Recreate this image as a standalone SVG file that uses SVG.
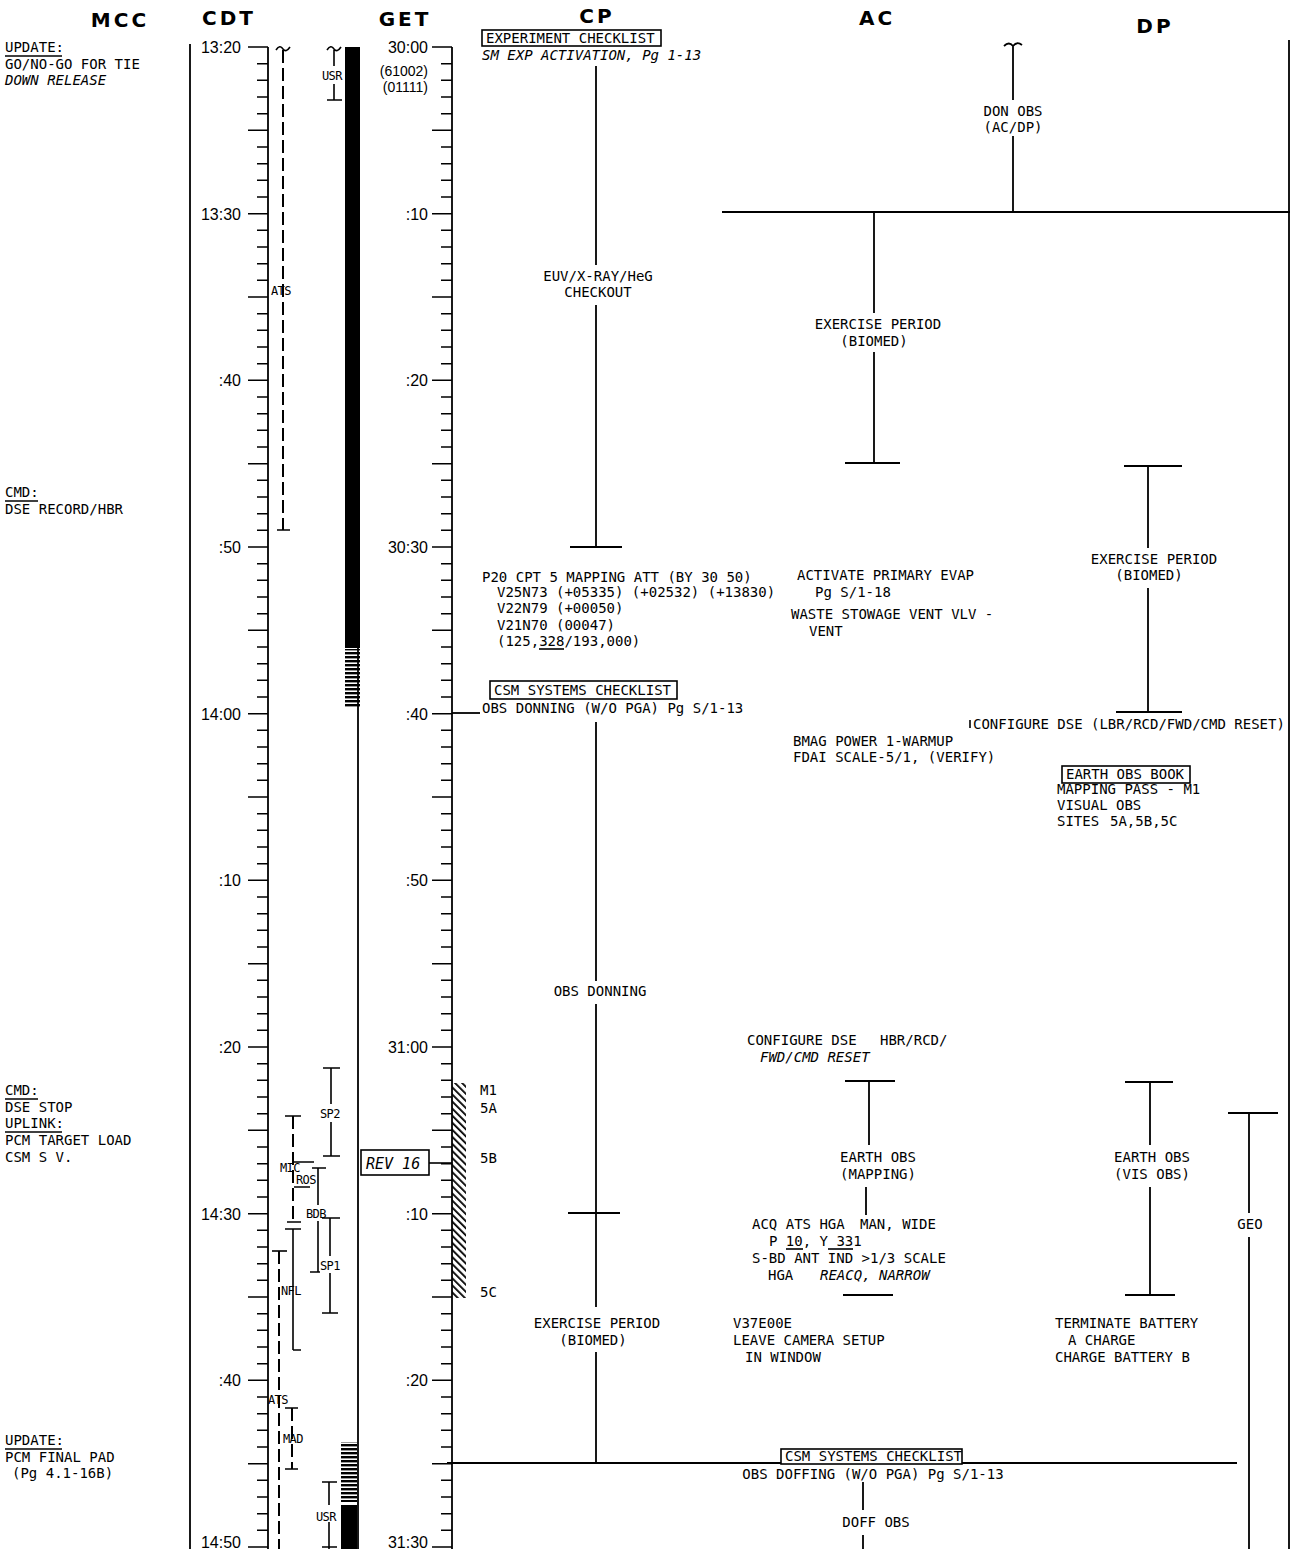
<svg xmlns="http://www.w3.org/2000/svg" width="1294" height="1549" viewBox="0 0 1294 1549">
<style>
.t{font-family:"DejaVu Sans Mono","Liberation Mono",monospace;font-size:14px;fill:#000}
.s{font-family:"DejaVu Sans Mono","Liberation Mono",monospace;font-size:12px;letter-spacing:-0.6px;fill:#000}
.i{font-style:italic}
.m{text-anchor:middle}
.r{font-family:"Liberation Sans",Arial,sans-serif;font-size:16px;fill:#000;text-anchor:end}
.h{font-family:"DejaVu Sans","Liberation Sans",sans-serif;font-size:20px;font-weight:bold;letter-spacing:3px;fill:#000;text-anchor:middle}
.ln{stroke:#000;stroke-width:1.8;fill:none}
.tk{stroke:#000;stroke-width:1.6;fill:none}
.ds{stroke:#000;stroke-width:2;fill:none;stroke-dasharray:13 5}
.bx{stroke:#000;stroke-width:1.6;fill:#fff}
</style>
<defs>
<pattern id="hstripe" width="16" height="4" patternUnits="userSpaceOnUse"><rect width="16" height="2.4" fill="#000"/></pattern>
<pattern id="diag" width="5" height="5" patternUnits="userSpaceOnUse" patternTransform="rotate(-45)"><rect width="1.8" height="5" fill="#000"/></pattern>
<path id="minor" d="M0 63.7h11M0 80.3h11M0 97h11M0 113.7h11M0 147h11M0 163.7h11M0 180.3h11M0 197h11M0 230.3h11M0 247h11M0 263.7h11M0 280.3h11M0 313.7h11M0 330.3h11M0 347h11M0 363.7h11M0 397h11M0 413.7h11M0 430.3h11M0 447h11M0 480.3h11M0 497h11M0 513.7h11M0 530.3h11M0 563.7h11M0 580.3h11M0 597h11M0 613.7h11M0 647h11M0 663.7h11M0 680.3h11M0 697h11M0 730.3h11M0 747h11M0 763.7h11M0 780.3h11M0 813.7h11M0 830.3h11M0 847h11M0 863.7h11M0 897h11M0 913.7h11M0 930.3h11M0 947h11M0 980.3h11M0 997h11M0 1013.7h11M0 1030.3h11M0 1063.7h11M0 1080.3h11M0 1097h11M0 1113.7h11M0 1147h11M0 1163.7h11M0 1180.3h11M0 1197h11M0 1230.3h11M0 1247h11M0 1263.7h11M0 1280.3h11M0 1313.7h11M0 1330.3h11M0 1347h11M0 1363.7h11M0 1397h11M0 1413.7h11M0 1430.3h11M0 1447h11M0 1480.3h11M0 1497h11M0 1513.7h11M0 1530.3h11"/>
<path id="major" d="M0 47h20M0 130.3h20M0 213.7h20M0 297h20M0 380.3h20M0 463.7h20M0 547h20M0 630.3h20M0 713.7h20M0 797h20M0 880.3h20M0 963.7h20M0 1047h20M0 1130.3h20M0 1213.7h20M0 1297h20M0 1380.3h20M0 1463.7h20M0 1547h20"/>
</defs>
<rect width="1294" height="1549" fill="#fff"/>

<g id="headers">
<text class="h" x="120" y="27">MCC</text>
<text class="h" x="229" y="25">CDT</text>
<text class="h" x="405" y="26">GET</text>
<text class="h" x="597" y="23">CP</text>
<text class="h" x="877" y="25">AC</text>
<text class="h" x="1155" y="33">DP</text>
</g>

<g id="cdt-ruler">
<line class="ln" x1="190" y1="44" x2="190" y2="1549"/>
<line class="ln" x1="268" y1="47" x2="268" y2="1549"/>
<use href="#minor" x="257" class="tk"/>
<use href="#major" x="248" class="tk"/>
<text class="r" x="241" y="53">13:20</text>
<text class="r" x="241" y="220">13:30</text>
<text class="r" x="241" y="386">:40</text>
<text class="r" x="241" y="553">:50</text>
<text class="r" x="241" y="720">14:00</text>
<text class="r" x="241" y="886">:10</text>
<text class="r" x="241" y="1053">:20</text>
<text class="r" x="241" y="1220">14:30</text>
<text class="r" x="241" y="1386">:40</text>
<text class="r" x="241" y="1548">14:50</text>
</g>

<g id="get-ruler">
<line class="ln" x1="452" y1="47" x2="452" y2="1549"/>
<use href="#minor" x="441" class="tk"/>
<use href="#major" x="432" class="tk"/>
<text class="r" x="428" y="53">30:00</text>
<text class="r" x="428" y="76" style="font-size:14px">(61002)</text>
<text class="r" x="428" y="92" style="font-size:14px">(01111)</text>
<text class="r" x="428" y="220">:10</text>
<text class="r" x="428" y="386">:20</text>
<text class="r" x="428" y="553">30:30</text>
<text class="r" x="428" y="720">:40</text>
<text class="r" x="428" y="886">:50</text>
<text class="r" x="428" y="1053">31:00</text>
<text class="r" x="428" y="1220">:10</text>
<text class="r" x="428" y="1386">:20</text>
<text class="r" x="428" y="1548">31:30</text>
</g>

<g id="comm-bars">
<line class="ln" x1="358" y1="47" x2="358" y2="1549"/>
<rect x="345" y="47" width="15" height="601" fill="#000"/>
<rect x="345" y="649" width="15" height="59" fill="url(#hstripe)"/>
<rect x="341" y="1442" width="16" height="60" fill="url(#hstripe)"/>
<rect x="341" y="1505" width="16" height="44" fill="#000"/>
<rect x="452" y="1083" width="14" height="215" fill="url(#diag)"/>
</g>

<g id="mcc">
<text class="t" x="5" y="52">UPDATE:</text>
<line class="tk" x1="5" y1="56" x2="62" y2="56"/>
<text class="t" x="5" y="69">GO/NO-GO FOR TIE</text>
<text class="t i" x="5" y="85">DOWN RELEASE</text>
<text class="t" x="5" y="497">CMD:</text>
<line class="tk" x1="5" y1="501" x2="38" y2="501"/>
<text class="t" x="5" y="514">DSE RECORD/HBR</text>
<text class="t" x="5" y="1095">CMD:</text>
<line class="tk" x1="5" y1="1099" x2="38" y2="1099"/>
<text class="t" x="5" y="1112">DSE STOP</text>
<text class="t" x="5" y="1128">UPLINK:</text>
<line class="tk" x1="5" y1="1132" x2="62" y2="1132"/>
<text class="t" x="5" y="1145">PCM TARGET LOAD</text>
<text class="t" x="5" y="1162">CSM S V.</text>
<text class="t" x="5" y="1445">UPDATE:</text>
<line class="tk" x1="5" y1="1449" x2="62" y2="1449"/>
<text class="t" x="5" y="1462">PCM FINAL PAD</text>
<text class="t" x="12" y="1478">(Pg 4.1-16B)</text>
</g>

<g id="stations">
<path class="ds" d="M283 50V530"/>
<path class="tk" d="M276 50q4-6 7-1q3 4 7-2M277 530h13"/>
<text class="s" x="271" y="295">ATS</text>
<path class="tk" d="M334 50V66M334 84V100M327 100h15M327 50q4-6 7-1q3 4 7-2"/>
<text class="s" x="322" y="80">USR</text>
<path class="tk" d="M331 1068V1104M331 1122V1156M323 1068h17M323 1156h17"/>
<text class="s" x="320" y="1118">SP2</text>
<path class="ds" d="M293 1116V1222"/>
<path class="tk" d="M285 1116h16M287 1222h14"/>
<text class="s" x="280" y="1172">MIC</text>
<path class="tk" d="M294 1162h20M294 1187h16"/>
<text class="s" x="296" y="1184">ROS</text>
<path class="tk" d="M318 1168V1205M318 1221V1272M312 1168h14M310 1272h10"/>
<text class="s" x="306" y="1218">BDB</text>
<path class="tk" d="M330 1218V1256M330 1273V1313M322 1218h18M322 1313h16"/>
<text class="s" x="320" y="1270">SP1</text>
<path class="tk" d="M293 1229V1350M285 1229h16M293 1350h8"/>
<path class="ds" d="M279 1251V1549"/>
<path class="tk" d="M272 1251h15"/>
<text class="s" x="281" y="1295">NFL</text>
<text class="s" x="268" y="1404">ATS</text>
<path class="ds" d="M292 1408V1469"/>
<path class="tk" d="M285 1408h13M285 1469h13"/>
<text class="s" x="283" y="1443">MAD</text>
<path class="tk" d="M329 1482V1505M329 1522V1549M322 1482h15M322 1547h15"/>
<text class="s" x="316" y="1521">USR</text>
</g>

<g id="rev16">
<rect class="bx" x="361" y="1150" width="68" height="25"/>
<text class="t i" x="366" y="1169" style="font-size:15px">REV 16</text>
<line class="tk" x1="429" y1="1163" x2="452" y2="1163"/>
<text class="t" x="480" y="1095">M1</text>
<text class="t" x="480" y="1113">5A</text>
<text class="t" x="480" y="1163">5B</text>
<text class="t" x="480" y="1297">5C</text>
</g>

<g id="connectors">
<path class="ln" d="M596 66V265M596 305V547M570 547h52"/>
<path class="ln" d="M452 713H480"/>
<path class="ln" d="M596 722V981M596 1004V1307M568 1213h52M596 1352V1463"/>
<path class="ln" d="M447 1463H1237"/>
<path class="ln" d="M863 1482V1510M863 1535V1549"/>
<path class="ln" d="M1013 46V100M1013 136V212M1004 46q5-5 9 0q4-5 9-1"/>
<path class="ln" d="M722 212H1290"/>
<path class="ln" d="M874 212V313M874 352V463M845 463h55"/>
<path class="ln" d="M1124 466h58M1148 466V548M1148 588V712M1116 712h66"/>
<path class="ln" d="M845 1081h50M869 1081V1145M866 1187V1215M843 1295h50"/>
<path class="ln" d="M1125 1082h48M1150 1082V1145M1150 1187V1295M1125 1295h50"/>
<path class="ln" d="M1228 1113h50M1249 1113V1213M1249 1237V1549"/>
<path class="ln" d="M1289 40V1549"/>
<path class="tk" d="M970 720v8"/>
</g>

<g id="cp-exp-checklist">
<rect class="bx" x="482" y="30" width="179" height="16"/>
<text class="t" x="486" y="43">EXPERIMENT CHECKLIST</text>
<text class="t i" x="482" y="60">SM EXP ACTIVATION, Pg 1-13</text>
</g>
<g id="cp-euv">
<text class="t m" x="598" y="281">EUV/X-RAY/HeG</text>
<text class="t m" x="598" y="297">CHECKOUT</text>
</g>
<g id="cp-p20">
<text class="t" x="482" y="582">P20 CPT 5 MAPPING ATT (BY 30 50)</text>
<text class="t" x="497" y="597">V25N73 (+05335) (+02532) (+13830)</text>
<text class="t" x="497" y="613">V22N79 (+00050)</text>
<text class="t" x="497" y="630">V21N70 (00047)</text>
<text class="t" x="497" y="646">(125,328/193,000)</text>
<line class="tk" x1="539" y1="649" x2="564" y2="649"/>
</g>
<g id="cp-obs-donning">
<rect class="bx" x="490" y="681" width="187" height="18"/>
<text class="t" x="494" y="695">CSM SYSTEMS CHECKLIST</text>
<text class="t" x="482" y="713">OBS DONNING (W/O PGA) Pg S/1-13</text>
<text class="t m" x="600" y="996">OBS DONNING</text>
</g>
<g id="cp-exercise">
<text class="t m" x="597" y="1328">EXERCISE PERIOD</text>
<text class="t m" x="593" y="1345">(BIOMED)</text>
</g>
<g id="obs-doffing">
<rect class="bx" x="781" y="1449" width="181" height="15"/>
<text class="t" x="785" y="1461">CSM SYSTEMS CHECKLIST</text>
<text class="t m" x="873" y="1479">OBS DOFFING (W/O PGA) Pg S/1-13</text>
<text class="t m" x="876" y="1527">DOFF OBS</text>
</g>

<g id="ac-don-obs">
<text class="t m" x="1013" y="116">DON OBS</text>
<text class="t m" x="1013" y="132">(AC/DP)</text>
</g>
<g id="ac-exercise">
<text class="t m" x="878" y="329">EXERCISE PERIOD</text>
<text class="t m" x="874" y="346">(BIOMED)</text>
</g>
<g id="ac-evap">
<text class="t" x="797" y="580">ACTIVATE PRIMARY EVAP</text>
<text class="t" x="815" y="597">Pg S/1-18</text>
<text class="t" x="791" y="619">WASTE STOWAGE VENT VLV -</text>
<text class="t" x="809" y="636">VENT</text>
</g>
<g id="ac-bmag">
<text class="t" x="793" y="746">BMAG POWER 1-WARMUP</text>
<text class="t" x="793" y="762">FDAI SCALE-5/1, (VERIFY)</text>
</g>
<g id="configure-dse">
<text class="t" x="973" y="729">CONFIGURE DSE (LBR/RCD/FWD/CMD RESET)</text>
</g>
<g id="dp-exercise">
<text class="t m" x="1154" y="564">EXERCISE PERIOD</text>
<text class="t m" x="1149" y="580">(BIOMED)</text>
</g>
<g id="dp-earth-obs-book">
<rect class="bx" x="1062" y="766" width="128" height="17"/>
<text class="t" x="1066" y="779">EARTH OBS BOOK</text>
<text class="t" x="1057" y="794">MAPPING PASS - M1</text>
<text class="t" x="1057" y="810">VISUAL OBS</text>
<text class="t" x="1057" y="826">SITES</text>
<text class="t" x="1110" y="826">5A,5B,5C</text>
</g>

<g id="ac-configure-dse">
<text class="t" x="747" y="1045">CONFIGURE DSE</text>
<text class="t" x="880" y="1045">HBR/RCD/</text>
<text class="t i" x="760" y="1062">FWD/CMD RESET</text>
</g>
<g id="ac-earth-obs">
<text class="t m" x="878" y="1162">EARTH OBS</text>
<text class="t m" x="878" y="1179">(MAPPING)</text>
</g>
<g id="ac-acq">
<text class="t" x="752" y="1229">ACQ ATS HGA</text>
<text class="t" x="860" y="1229">MAN, WIDE</text>
<text class="t" x="769" y="1246">P 10, Y 331</text>
<line class="tk" x1="786" y1="1249" x2="803" y2="1249"/>
<line class="tk" x1="828" y1="1249" x2="853" y2="1249"/>
<text class="t" x="752" y="1263">S-BD ANT IND &gt;1/3 SCALE</text>
<text class="t" x="768" y="1280">HGA</text>
<text class="t i" x="820" y="1280">REACQ, NARROW</text>
</g>
<g id="ac-v37">
<text class="t" x="733" y="1328">V37E00E</text>
<text class="t" x="733" y="1345">LEAVE CAMERA SETUP</text>
<text class="t" x="745" y="1362">IN WINDOW</text>
</g>
<g id="dp-earth-obs">
<text class="t m" x="1152" y="1162">EARTH OBS</text>
<text class="t m" x="1152" y="1179">(VIS OBS)</text>
</g>
<g id="dp-battery">
<text class="t" x="1055" y="1328">TERMINATE BATTERY</text>
<text class="t" x="1068" y="1345">A CHARGE</text>
<text class="t" x="1055" y="1362">CHARGE BATTERY B</text>
</g>
<g id="dp-geo">
<text class="t m" x="1250" y="1229">GEO</text>
</g>
</svg>
